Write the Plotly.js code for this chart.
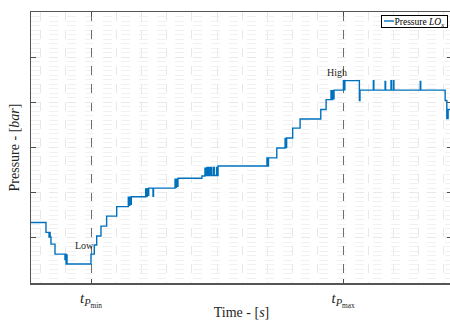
<!DOCTYPE html>
<html>
<head>
<meta charset="utf-8">
<script src="https://cdn.plot.ly/plotly-3.0.1.min.js"></script>
<style>
html,body{margin:0;padding:0;overflow:hidden;background:#fff;}
#chart{width:455px;height:320px;}
</style>
</head>
<body>
<div id="chart"></div>
<script>
// Time [s] and pressure [bar] samples (step-wise signal)
var time = [-1.9, 1.07, 1.67, 1.8, 1.9, 2.06, 2.86, 4.84, 4.95, 5.05, 5.15, 5.25,
  10.0, 10.65, 11.13, 11.98, 13.1, 15.1, 17.4, 17.55, 17.7, 17.85, 18.0,
  20.85, 21.0, 21.15, 21.3, 21.45, 22.3, 22.4, 26.67, 26.8, 26.95, 27.1, 27.25,
  32.0, 32.6, 32.75, 33.0, 33.15, 33.4, 33.55, 33.8, 33.95, 34.3, 34.45, 34.9, 35.05,
  35.2, 44.9, 45.05, 45.2, 46.85, 48.5, 48.65, 48.8, 50.0, 51.47, 55.57, 56.63,
  57.6, 57.75, 57.9, 58.05, 58.2, 60.06, 60.2, 60.35, 63.23, 63.35,
  66.0, 66.1, 68.33, 68.43, 69.5, 69.6, 69.98, 70.08, 75.3, 75.4,
  80.24, 80.57, 80.83, 81.6];
var pressure = [6.7, 5.6, 5.1, 5.6, 5.1, 4.3, 3.2, 2.6, 3.2, 2.1, 3.1, 2.1,
  3.2, 4.2, 5.2, 6.3, 7.4, 8.45, 9.5, 8.6, 9.5, 8.7, 9.55,
  10.4, 9.6, 10.45, 9.7, 10.5, 9.6, 10.5, 11.5, 10.6, 11.5, 10.7, 11.6,
  11.85, 12.7, 11.9, 12.8, 11.9, 12.8, 11.9, 12.8, 11.9, 12.8, 11.9, 12.8, 11.9,
  12.95, 13.85, 12.95, 13.85, 14.95, 16.0, 15.0, 16.05, 17.15, 18.15, 19.2, 20.3,
  21.3, 20.3, 21.3, 20.4, 21.35, 22.4, 21.4, 22.4, 20.2, 21.35,
  22.4, 21.35, 22.3, 21.35, 22.4, 21.35, 22.4, 21.35, 22.3, 21.35,
  20.2, 18.2, 19.2, 19.2];
var xTickVals = [10, 60];
var xTickText = ['<i>t</i><sub><i>P</i><sub>min</sub></sub>', '<i>t</i><sub><i>P</i><sub>max</sub></sub>'];
var xRange = [-1.9, 81.6];
var yRange = [0, 30];
var labelText = ['Low', 'High'];
var labelTime = [8.7, 58.8];
var labelPressure = [4.2, 23.3];

var serif = 'Liberation Serif, Times New Roman, serif';
var trace = {
  x: time, y: pressure, type: 'scatter', mode: 'lines',
  line: {color: '#0072BD', width: 1.4, shape: 'hv'},
  name: 'Pressure <i>LO<sub>x</sub></i>'
};
var annotations = labelText.map(function(t, i){
  return {x: labelTime[i], y: labelPressure[i], text: t, showarrow: false,
    font: {family: serif, size: 10, color: '#262626'}};
});
var layout = {
  width: 455, height: 320,
  margin: {l: 31, r: 3, t: 12, b: 37},
  paper_bgcolor: '#fff', plot_bgcolor: '#fff',
  font: {family: serif, color: '#262626'},
  showlegend: true,
  legend: {x: 1, xanchor: 'right', y: 0.99, yanchor: 'top',
    bordercolor: '#000', borderwidth: 1, bgcolor: '#fff',
    font: {family: serif, size: 9.5, color: '#000'}, tracegroupgap: 0},
  xaxis: {
    range: xRange, tickmode: 'array', tickvals: xTickVals, ticktext: xTickText,
    showgrid: true, gridcolor: '#6e6e6e', griddash: 'dash', gridwidth: 1,
    ticks: 'inside', ticklen: 4, tickcolor: '#4d4d4d',
    showline: true, linecolor: '#555', linewidth: 1.5, mirror: 'ticks',
    zeroline: false,
    tickfont: {family: serif, size: 15, color: '#262626'},
    minor: {tickmode: 'linear', tick0: 0, dtick: 5, showgrid: true, gridcolor: '#e8e8e8', gridwidth: 1, ticks: ''},
    title: {text: 'Time - [<i>s</i>]', font: {family: serif, size: 14, color: '#262626'}, standoff: 3},
    automargin: false
  },
  yaxis: {
    range: yRange, tick0: 0, dtick: 5, showticklabels: false,
    showgrid: true, gridcolor: '#e8e8e8', griddash: 'dash', gridwidth: 1,
    ticks: 'inside', ticklen: 5, tickcolor: '#4d4d4d',
    showline: true, linecolor: '#555', linewidth: 1.5, mirror: 'ticks',
    zeroline: false,
    minor: {tick0: 0, dtick: 0.5, showgrid: true, gridcolor: '#f1f1f1', griddash: 'dash', gridwidth: 1, ticks: ''},
    title: {text: 'Pressure - [<i>bar</i>]', font: {family: serif, size: 14, color: '#262626'}, standoff: 6},
    automargin: false
  },
  annotations: annotations
};
Plotly.newPlot('chart', [trace], layout, {displayModeBar: false, staticPlot: true}).then(function(gd){
  // compact legend: short line sample, tight box (as in the reference)
  var leg = gd.querySelector('.legend');
  if (!leg) return;
  var path = leg.querySelector('.legendlines path');
  var txt = leg.querySelector('.legendtext');
  var bg = leg.querySelector('rect.bg');
  var sb = leg.querySelector('.scrollbox');
  if (sb) sb.removeAttribute('clip-path');
  if (path) path.setAttribute('d', 'M2,0h10');
  var textLen = 55;
  if (txt) {
    txt.setAttribute('x', 12.5);
    try { textLen = txt.getBBox().width; } catch (e) {}
  }
  var lineY = 15;
  try {
    var m1 = leg.getCTM().inverse().multiply(path.getCTM());
    lineY = m1.f;
  } catch (e) {}
  if (bg) {
    bg.setAttribute('x', 0.5);
    bg.setAttribute('y', lineY - 6);
    bg.setAttribute('width', 12.5 + textLen + 4);
    bg.setAttribute('height', 12);
  }
  leg.setAttribute('transform', 'translate(381,' + (21 - lineY) + ')');
});
</script>
</body>
</html>
